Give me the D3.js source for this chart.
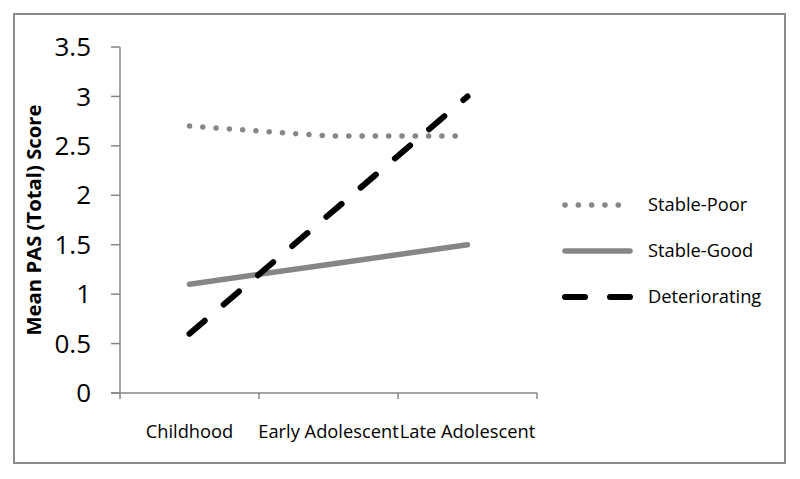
<!DOCTYPE html>
<html><head><meta charset="utf-8">
<script src="https://cdn.jsdelivr.net/npm/d3@7"></script>
<style>body{margin:0;background:#fff}svg{display:block}</style>
</head><body>
<svg id="c" width="800" height="479"></svg>
<script>
const categories = ["Childhood", "Early Adolescent", "Late Adolescent"];
const seriesNames = ["Stable-Poor", "Stable-Good", "Deteriorating"];
const stablePoor = [2.7, 2.6, 2.6];
const stableGood = [1.1, 1.3, 1.5];
const deteriorating = [0.6, 1.8, 3.0];
const yTicks = [0, 0.5, 1, 1.5, 2, 2.5, 3, 3.5];
const yTitle = "Mean PAS (Total) Score";

const svg = d3.select("#c");
const font = "'Open Sans', sans-serif";
const axisColor = "#868686";

// outer border
svg.append("rect").attr("x", 14).attr("y", 14).attr("width", 771).attr("height", 449)
  .attr("fill", "none").attr("stroke", "#8c8c8c").attr("stroke-width", 2);

const x = d3.scaleBand().domain(categories).range([120, 537]);
const y = d3.scaleLinear().domain([0, 3.5]).range([393, 47]);

// y axis
const ya = svg.append("g");
ya.append("line").attr("x1", 120).attr("x2", 120).attr("y1", y(3.5)).attr("y2", y(0))
  .attr("stroke", axisColor).attr("stroke-width", 1.5);
ya.selectAll(".t").data(yTicks).enter().append("line")
  .attr("x1", 111).attr("x2", 120).attr("y1", d => y(d)).attr("y2", d => y(d))
  .attr("stroke", axisColor).attr("stroke-width", 1.5);
ya.selectAll("text").data(yTicks).enter().append("text")
  .attr("x", 91).attr("y", d => y(d)).attr("dy", "0.35em").attr("text-anchor", "end")
  .attr("font-family", font).attr("font-size", 26).attr("fill", "#000").text(d => d);

// x axis
const xa = svg.append("g");
xa.append("line").attr("x1", 111).attr("x2", 537).attr("y1", y(0)).attr("y2", y(0))
  .attr("stroke", axisColor).attr("stroke-width", 1.5);
const xt = [120, ...categories.map(c => x(c) + x.bandwidth())];
xa.selectAll(".t").data(xt).enter().append("line")
  .attr("x1", d => d).attr("x2", d => d).attr("y1", y(0)).attr("y2", y(0) + 6)
  .attr("stroke", axisColor).attr("stroke-width", 1.5);
xa.selectAll("text").data(categories).enter().append("text")
  .attr("x", d => x(d) + x.bandwidth() / 2).attr("y", 438).attr("text-anchor", "middle")
  .attr("font-family", font).attr("font-size", 18.3).attr("fill", "#000").text(d => d);

// y title
svg.append("text").attr("transform", "translate(41,220) rotate(-90)")
  .attr("text-anchor", "middle").attr("font-family", font).attr("font-weight", "bold")
  .attr("font-size", 20.3).attr("fill", "#000").text(yTitle);

const styles = [
  {data: stablePoor, color: "#868686", width: 5.5, dash: "0.1,13.2"},
  {data: stableGood, color: "#868686", width: 5.5, dash: null},
  {data: deteriorating, color: "#000", width: 6, dash: "20,25"}
];
const line = d3.line().x((d, i) => x(categories[i]) + x.bandwidth() / 2).y(d => y(d));
styles.forEach(s => {
  svg.append("path").attr("d", line(s.data)).attr("fill", "none")
    .attr("stroke", s.color).attr("stroke-width", s.width).attr("stroke-linecap", "round")
    .attr("stroke-dasharray", s.dash);
});

// legend
const lg = svg.append("g");
const ly = [205, 251, 297];
seriesNames.forEach((n, i) => {
  const s = styles[i];
  lg.append("line").attr("x1", 565).attr("x2", 630).attr("y1", ly[i]).attr("y2", ly[i])
    .attr("stroke", s.color).attr("stroke-width", s.width).attr("stroke-linecap", "round")
    .attr("stroke-dasharray", s.dash);
  lg.append("text").attr("x", 648).attr("y", ly[i]).attr("dy", "0.35em")
    .attr("font-family", font).attr("font-size", 18.3).attr("fill", "#000").text(n);
});
</script>
</body></html>
